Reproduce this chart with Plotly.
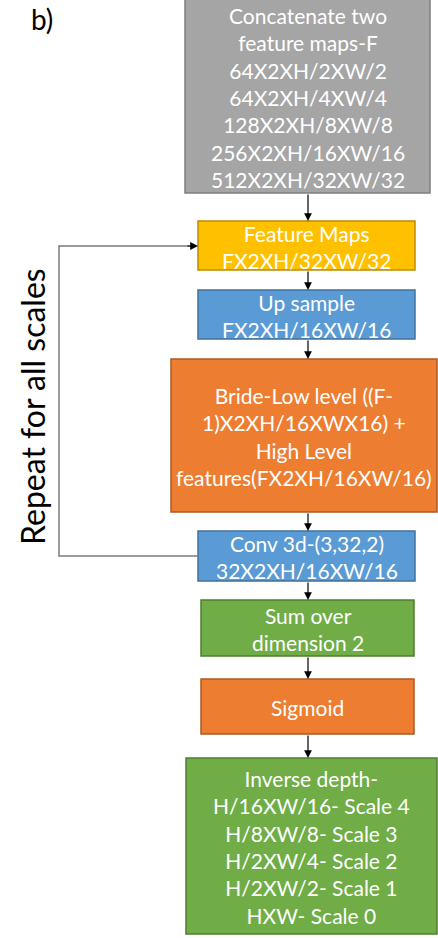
import plotly.graph_objects as go

# box texts, top to bottom
box_labels = [
    "Concatenate two<br>feature maps-F<br>64X2XH/2XW/2<br>64X2XH/4XW/4<br>128X2XH/8XW/8<br>256X2XH/16XW/16<br>512X2XH/32XW/32",
    "Feature Maps<br>FX2XH/32XW/32",
    "Up sample<br>FX2XH/16XW/16",
    "Bride-Low level ((F-<br>1)X2XH/16XWX16) +<br>High Level<br>features(FX2XH/16XW/16)",
    "Conv 3d-(3,32,2)<br>32X2XH/16XW/16",
    "Sum over<br>dimension 2",
    "Sigmoid",
    "Inverse depth-<br>H/16XW/16- Scale 4<br>H/8XW/8- Scale 3<br>H/2XW/4- Scale 2<br>H/2XW/2- Scale 1<br>HXW- Scale 0",
]
box_kinds = ["gray", "yellow", "blue", "orange", "blue", "green", "orange", "green"]
loop_label = "Repeat for all scales"
panel_label = "b)"

palette = {
    "gray": ("#A5A5A5", "#7F7F7F"),
    "yellow": ("#FFC000", "#BC8C00"),
    "blue": ("#5B9BD5", "#41719C"),
    "orange": ("#ED7D31", "#AE5A21"),
    "green": ("#70AD47", "#507E32"),
}

# box geometry in pixels (x0, y0, x1, y1)
geom = [
    (185, -2, 430, 193),
    (198, 221, 415, 270),
    (198, 290, 415, 339),
    (171, 359, 437, 512),
    (198, 531, 415, 581),
    (201, 600, 414, 656),
    (201, 679, 414, 734),
    (186, 758, 437, 934),
]

W, H = 438, 938
fig = go.Figure()
shapes, annos = [], []
for label, kind, (x0, y0, x1, y1) in zip(box_labels, box_kinds, geom):
    fill, edge = palette[kind]
    shapes.append(dict(type="rect", x0=x0, y0=y0, x1=x1, y1=y1, xref="x", yref="y",
                       fillcolor=fill, line=dict(color=edge, width=1.5), layer="below"))
    annos.append(dict(x=(x0 + x1) / 2, y=(y0 + y1) / 2 + (1 if kind != "gray" else 2), text=label,
                      showarrow=False, xref="x", yref="y", align="center",
                      font=dict(family="Lato", size=21, color="white")))

# down arrows between boxes
ax_x = 308
for (_, _, _, yb), (_, yt, _, _) in zip(geom[:-1], geom[1:]):
    annos.append(dict(x=ax_x, y=yt, ax=ax_x, ay=yb, xref="x", yref="y", axref="x", ayref="y",
                      text="", showarrow=True, arrowhead=2, arrowsize=1.3, arrowwidth=1.2,
                      arrowcolor="black"))

# feedback loop
shapes.append(dict(type="path", path="M 198 556 L 59 556 L 59 246 L 190 246", xref="x", yref="y",
                   line=dict(color="#7A7A7A", width=1.5)))
annos.append(dict(x=198, y=246, ax=186, ay=246, xref="x", yref="y", axref="x", ayref="y",
                  text="", showarrow=True, arrowhead=2, arrowsize=1.3, arrowwidth=1.2,
                  arrowcolor="black"))

annos.append(dict(x=32, y=407, text=loop_label, textangle=-90, showarrow=False, xref="x", yref="y",
                  font=dict(family="Lato", size=32, color="black")))
annos.append(dict(x=42, y=19, text=panel_label, showarrow=False, xref="x", yref="y",
                  font=dict(family="Lato", size=28, color="black")))

fig.update_layout(
    width=W, height=H, margin=dict(l=0, r=0, t=0, b=0),
    paper_bgcolor="white", plot_bgcolor="white",
    xaxis=dict(range=[0, W], visible=False, fixedrange=True),
    yaxis=dict(range=[H, 0], visible=False, fixedrange=True),
    shapes=shapes, annotations=annos, showlegend=False,
)
fig.write_html("out.html", config={"displayModeBar": False},
               post_script="document.body.style.margin='0';document.body.style.overflow='hidden';")
